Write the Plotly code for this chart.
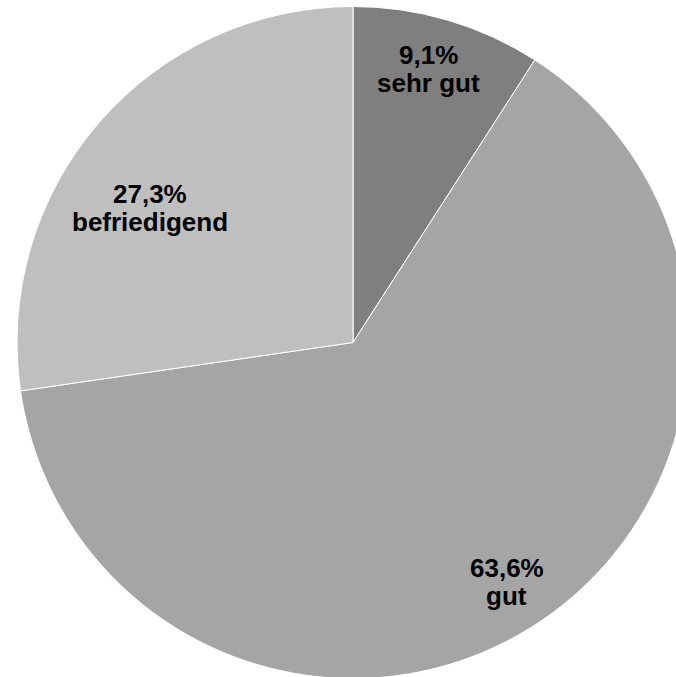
import math
import plotly.graph_objects as go

# Bewertungsverteilung
labels = ["sehr gut", "gut", "befriedigend"]
values = [9.1, 63.6, 27.3]
colors = ["#7F7F7F", "#A5A5A5", "#BFBFBF"]

W, H = 706, 685
DOMAIN_Y = [0.0095, 0.9905]
R_PX = min(W, H * (DOMAIN_Y[1] - DOMAIN_Y[0])) / 2

# label placement: fraction of the radius and angular nudge (degrees) per slice
LABEL_R = [0.846, 0.846, 0.725]
LABEL_NUDGE = [-0.9, 0.0, -7.4]
LINE_GAP = 14
FONT = dict(family="Liberation Sans, Arial, sans-serif", size=26, color="#000000", weight="bold")

fig = go.Figure(
    go.Pie(
        labels=labels,
        values=values,
        sort=False,
        direction="clockwise",
        rotation=0,
        marker=dict(colors=colors, line=dict(color="#FFFFFF", width=1)),
        textinfo="none",
        hoverinfo="label+percent",
        domain=dict(x=[0, 1], y=DOMAIN_Y),
        showlegend=False,
    )
)

total = sum(values)
start = 0.0
annotations = []
for lab, val, rf, nudge in zip(labels, values, LABEL_R, LABEL_NUDGE):
    span = 360.0 * val / total
    theta = math.radians(start + span / 2 + nudge)
    start += span
    x = 0.5 + rf * R_PX * math.sin(theta) / W
    y = 0.5 + rf * R_PX * math.cos(theta) / H
    pct = f"{val:.1f}".replace(".", ",") + "%"
    for txt, shift in ((pct, LINE_GAP), (lab, -LINE_GAP)):
        annotations.append(
            dict(
                x=x, y=y, xref="paper", yref="paper",
                text=txt, showarrow=False,
                xanchor="center", yanchor="middle",
                yshift=shift, font=FONT,
            )
        )

fig.update_layout(
    width=W,
    height=H,
    autosize=False,
    margin=dict(l=0, r=0, t=0, b=0),
    paper_bgcolor="#FFFFFF",
    plot_bgcolor="#FFFFFF",
    separators=",.",
    showlegend=False,
    annotations=annotations,
)

fig.write_html(
    "out.html",
    post_script="document.documentElement.style.overflow='hidden';document.body.style.overflow='hidden';document.body.style.margin='0';",
)
